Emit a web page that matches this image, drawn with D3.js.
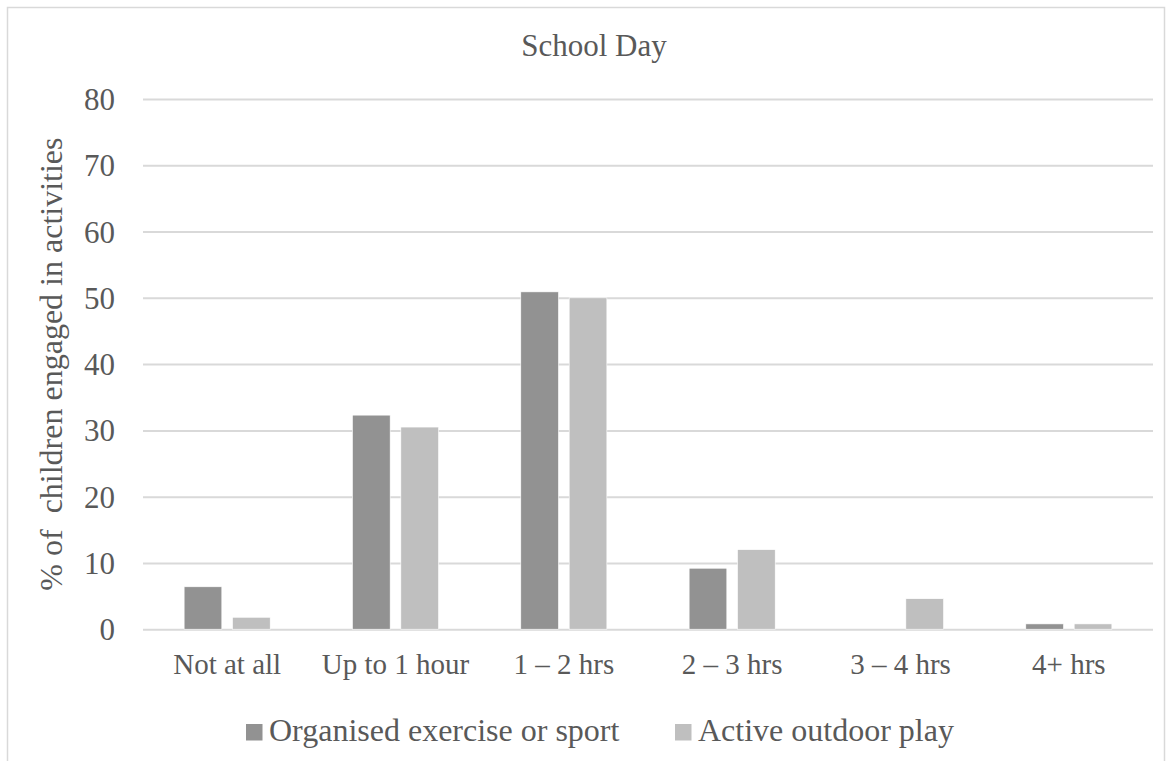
<!DOCTYPE html>
<html>
<head>
<meta charset="utf-8">
<script src="https://cdn.jsdelivr.net/npm/d3@7"></script>
<style>
  html, body { margin: 0; padding: 0; background: #fff; }
  svg { display: block; }
  svg text { font-family: 'Liberation Serif', 'Tinos', 'DejaVu Serif', serif !important; fill: #595959; }
</style>
</head>
<body>
<svg id="chart" width="1173" height="761"></svg>
<script>
// Time children spent on physical activity on a school day
const categories = ["Not at all", "Up to 1 hour", "1 \u2013 2 hrs", "2 \u2013 3 hrs", "3 \u2013 4 hrs", "4+ hrs"];
const seriesNames = ["Organised exercise or sport", "Active outdoor play"];
const organised = [6.4, 32.3, 50.9, 9.2, 0, 0.8];
const outdoor = [1.8, 30.5, 50.0, 12.0, 4.6, 0.8];
const yTicks = [0, 10, 20, 30, 40, 50, 60, 70, 80];
const seriesColors = ["#929292", "#bfbfbf"];

const seriesValues = [organised, outdoor];
const rows = categories.map((c, i) => ({
  category: c,
  values: seriesNames.map((s, k) => ({ series: s, value: seriesValues[k][i], color: seriesColors[k] }))
}));

const serif = "'Liberation Serif', 'Tinos', 'DejaVu Serif', serif";
const svg = d3.select("#chart");

// chart frame
svg.append("rect")
  .attr("x", 7.5).attr("y", 7.5)
  .attr("width", 1157).attr("height", 800)
  .attr("fill", "#fff").attr("stroke", "#d9d9d9").attr("stroke-width", 1.5);

const plot = { left: 143, right: 1153, top: 99, bottom: 629.2 };

const x0 = d3.scaleBand().domain(categories).range([plot.left, plot.right]).paddingInner(0).paddingOuter(0);
const x1 = d3.scaleBand().domain(seriesNames).range([0, x0.bandwidth()]).paddingInner(0.221).paddingOuter(0.85);
const y = d3.scaleLinear().domain([0, 80]).range([plot.bottom, plot.top]);

// horizontal gridlines
const yAxis = d3.axisLeft(y).tickValues(yTicks).tickSize(-(plot.right - plot.left)).tickPadding(28);
const gy = svg.append("g").attr("transform", `translate(${plot.left},0)`).call(yAxis);
gy.attr("font-family", serif);
gy.select(".domain").remove();
gy.selectAll(".tick line").attr("stroke", "#d9d9d9").attr("stroke-width", 2);
gy.selectAll(".tick text")
  .style("font-family", serif)
  .attr("font-size", 31).attr("fill", "#595959").attr("dy", "0.34em");

// bars
const groups = svg.append("g").selectAll("g")
  .data(rows).join("g")
  .attr("transform", d => `translate(${x0(d.category)},0)`);
groups.selectAll("rect")
  .data(d => d.values.filter(v => v.value > 0))
  .join("rect")
  .attr("x", v => x1(v.series))
  .attr("width", x1.bandwidth())
  .attr("y", v => y(v.value))
  .attr("height", v => y(0) - y(v.value))
  .attr("fill", v => v.color)
  .attr("stroke", "#fff").attr("stroke-width", 0.6);

// category axis
const xAxis = d3.axisBottom(x0).tickSize(0).tickPadding(24);
const gx = svg.append("g").attr("transform", `translate(0,${plot.bottom})`).call(xAxis);
gx.attr("font-family", serif);
gx.select(".domain").remove();
gx.selectAll(".tick text")
  .style("font-family", serif)
  .attr("font-size", 29).attr("fill", "#595959");

// title
svg.append("text")
  .attr("x", 594).attr("y", 56)
  .attr("text-anchor", "middle").attr("font-size", 31)
  .style("font-family", serif)
  .text("School Day");

// y axis title
svg.append("text")
  .attr("transform", `translate(62,${(plot.top + plot.bottom) / 2}) rotate(-90)`)
  .attr("text-anchor", "middle").attr("font-size", 32)
  .style("font-family", serif)
  .style("white-space", "pre")
  .text("% of  children engaged in activities");

// legend
const legendItems = [
  { name: seriesNames[0], color: seriesColors[0], x: 246 },
  { name: seriesNames[1], color: seriesColors[1], x: 675 }
];
const lg = svg.append("g").selectAll("g").data(legendItems).join("g")
  .attr("transform", d => `translate(${d.x},0)`);
lg.append("rect").attr("x", 0).attr("y", 724).attr("width", 16.5).attr("height", 16.5)
  .attr("fill", d => d.color);
lg.append("text").attr("x", 23).attr("y", 741).attr("font-size", 32)
  .style("font-family", serif)
  .text(d => d.name);
</script>
</body>
</html>
